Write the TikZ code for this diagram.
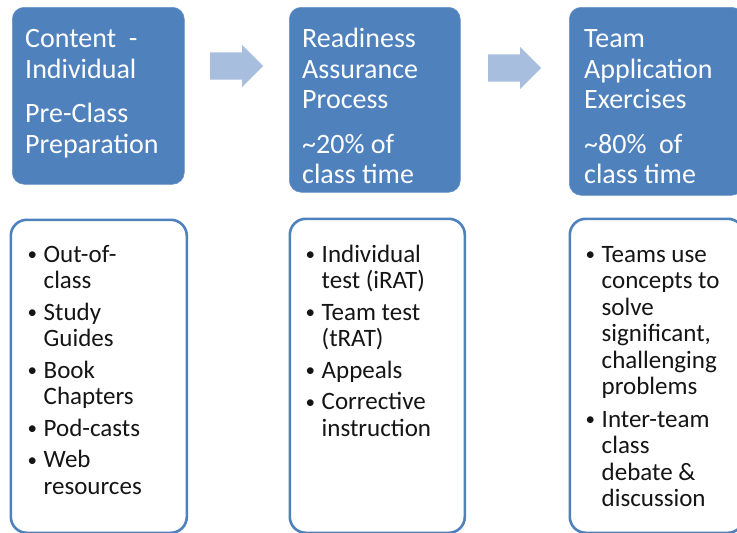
\documentclass[tikz,border=0pt]{standalone}
\usepackage{fontspec}
\setmainfont{Carlito}
\usetikzlibrary{shapes.arrows}
\definecolor{hdrblue}{HTML}{4F81BD}
\definecolor{arrblue}{HTML}{A7BEDE}
\definecolor{txtdark}{HTML}{151515}
\newcommand{\lstbul}{\makebox[17pt][l]{\hspace{1pt}\raisebox{1.5pt}{\fontsize{19}{19}\selectfont •}}}
\newcommand{\lstind}{\hspace*{17pt}}
\begin{document}
\begin{tikzpicture}[x=1pt,y=-1pt,
  hdrbox/.style={rectangle, rounded corners=12pt, fill=hdrblue, draw=hdrblue!85!white, line width=0.6pt, anchor=north west, inner sep=0pt},
  listbox/.style={rectangle, rounded corners=16pt, draw=hdrblue, line width=2.6pt, fill=white, anchor=north west, inner sep=0pt},
  hdrtext/.style={anchor=north west, inner sep=0pt, align=left, text=white, font=\fontsize{28}{30.5}\selectfont},
  listtext/.style={anchor=north west, inner sep=0pt, align=left, text=txtdark, font=\fontsize{25}{26.5}\selectfont},
  flowarrow/.style={single arrow, fill=arrblue, draw=none, inner sep=0pt, minimum height=53pt, single arrow head extend=7.5pt, anchor=tail}]
\useasboundingbox (0,0) rectangle (737,533);
\clip (0,0) rectangle (737,533);
\fill[white] (0,0) rectangle (737,533);
% header boxes
\node[hdrbox, minimum width=172pt, minimum height=177pt] (h1) at (12,7) {};
\node[hdrbox, minimum width=171pt, minimum height=185pt] (h2) at (289,7) {};
\node[hdrbox, minimum width=174pt, minimum height=188pt] (h3) at (569,7) {};
\node[hdrtext] (t1) at (25,26) {\strut Content\ \ -\\Individual\\[14pt]Pre-Class\\Preparation};
\node[hdrtext] (t2) at (302,26) {\strut Readiness\\Assurance\\Process\\[14pt]\textasciitilde 20\% of\\class time};
\node[hdrtext] (t3) at (584,26) {\strut Team\\Application\\Exercises\\[14pt]\textasciitilde 80\%\ \ of\\class time};
% arrows
\node[flowarrow] (a1) at (210,66) {\rule{0pt}{27pt}};
\node[flowarrow] (a2) at (488,68) {\rule{0pt}{27pt}};
% list boxes
\node[listbox, minimum width=176pt, minimum height=313pt] (b1) at (9.5,218.5) {};
\node[listbox, minimum width=175pt, minimum height=314pt] (b2) at (288.5,217.5) {};
\node[listbox, minimum width=174pt, minimum height=314pt] (b3) at (568.5,217.5) {};
\node[listtext] (l1) at (26.5,243.5) {\strut\lstbul Out-of-\\\lstind class\\[5pt]\lstbul Study\\\lstind Guides\\[5pt]\lstbul Book\\\lstind Chapters\\[5pt]\lstbul Pod-casts\\[5pt]\lstbul Web\\\lstind resources};
\node[listtext] (l2) at (304.5,243.5) {\strut\lstbul Individual\\\lstind test (iRAT)\\[5pt]\lstbul Team test\\\lstind (tRAT)\\[5pt]\lstbul Appeals\\[5pt]\lstbul Corrective\\\lstind instruction};
\node[listtext] (l3) at (584.5,243.5) {\strut\lstbul Teams use\\\lstind concepts to\\\lstind solve\\\lstind significant,\\\lstind challenging\\\lstind problems\\[6pt]\lstbul Inter-team\\\lstind class\\\lstind debate \&\\\lstind discussion};
\end{tikzpicture}
\end{document}
